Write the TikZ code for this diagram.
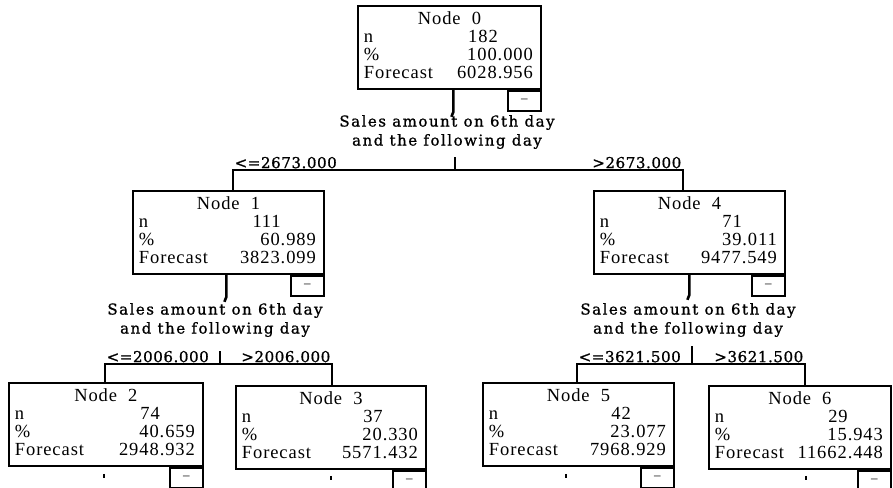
\documentclass[tikz,border=0pt]{standalone}
\usepackage{fontspec}
\setmainfont{Liberation Serif}
\newfontfamily\splitfont[LetterSpace=10,FakeBold=1]{DejaVu Serif}
\newfontfamily\cutfont[LetterSpace=4,FakeBold=1]{DejaVu Serif}

\newcommand{\nodetable}[5]{%
  \begin{tabular*}{#1}{@{\hspace{6pt}}l@{\extracolsep{\fill}}r@{\hspace{8pt}}}
    \multicolumn{2}{c}{#2}\\
    n & #3\phantom{.000}\\
    \% & #4\\
    Forecast & #5
  \end{tabular*}}

\begin{document}
\begin{tikzpicture}[x=1pt,y=-1pt,
    treebox/.style={draw,line width=1.8pt,inner sep=0pt,minimum height=83pt,anchor=north west,
      font=\fontsize{18.5}{18}\selectfont\addfontfeatures{LetterSpace=5}},
    minusbox/.style={draw,line width=1.8pt,inner sep=0pt,minimum width=33pt,minimum height=20pt,
      anchor=north east,font=\fontsize{13}{13}\selectfont},
    splitlabel/.style={align=center,inner sep=0pt,font=\splitfont\fontsize{15}{19}\selectfont},
    cutlabel/.style={inner sep=1.5pt,font=\cutfont\fontsize{15}{16}\selectfont},
    conn/.style={line width=2.6pt,line join=miter},
    tick/.style={line width=2pt}]
  \useasboundingbox (0,0) rectangle (893,487);

  % tree nodes
  \node[treebox] (n0) at (357,5) {\nodetable{183pt}{Node\ \ 0}{182}{100.000}{6028.956}};
  \node[treebox] (n1) at (132,190) {\nodetable{191pt}{Node\ \ 1}{111}{60.989}{3823.099}};
  \node[treebox] (n4) at (593,190) {\nodetable{191pt}{Node\ \ 4}{71}{39.011}{9477.549}};
  \node[treebox] (n2) at (8,382) {\nodetable{194pt}{Node\ \ 2}{74}{40.659}{2948.932}};
  \node[treebox] (n3) at (235,385) {\nodetable{190pt}{Node\ \ 3}{37}{20.330}{5571.432}};
  \node[treebox] (n5) at (482,382) {\nodetable{191pt}{Node\ \ 5}{42}{23.077}{7968.929}};
  \node[treebox] (n6) at (708,385) {\nodetable{182pt}{Node\ \ 6}{29}{15.943}{11662.448}};

  \foreach \n in {0,...,6}
    \node[minusbox] (m\n) at (n\n.south east) {--};

  % split labels
  \node[splitlabel] (s0) at (447,132) {Sales amount on 6th day\\and the following day};
  \node[splitlabel] (s1) at (215,320) {Sales amount on 6th day\\and the following day};
  \node[splitlabel] (s4) at (688,320) {Sales amount on 6th day\\and the following day};

  \coordinate (b0) at (455,170);
  \coordinate (c1) at (233,170);
  \coordinate (c4) at (683,170);
  \coordinate (b1) at (220,364);
  \coordinate (c2) at (105,364);
  \coordinate (c3) at (332,364);
  \coordinate (b4) at (692,364);
  \coordinate (c5) at (577,364);
  \coordinate (c6) at (805,364);

  % stubs below parents
  \draw[conn] ([xshift=4pt]n0.south) -- ++(0,22) -- ++(-2,5);
  \draw[conn] ([xshift=-2pt]n1.south) -- ++(0,22) -- ++(-2,5);
  \draw[conn] (n4.south) -- ++(0,20) -- ++(-2,5);

  % split bars
  \draw[conn] (s0.south -| b0) ++(0,8) -- (b0);
  \draw[conn] (c1 |- n1.north) -- (c1) -- (c4) -- (c4 |- n4.north);
  \draw[conn] (s1.south -| b1) ++(0,14) -- (b1);
  \draw[conn] (c2 |- n2.north) -- (c2) -- (c3) -- (c3 |- n3.north);
  \draw[conn] (s4.south -| b4) ++(0,9) -- (b4);
  \draw[conn] (c5 |- n5.north) -- (c5) -- (c6) -- (c6 |- n6.north);

  % cut points
  \node[cutlabel,anchor=south west] (l1) at (c1) {<=2673.000};
  \node[cutlabel,anchor=south east] (l4) at (c4) {>2673.000};
  \node[cutlabel,anchor=south west] (l2) at (c2) {<=2006.000};
  \node[cutlabel,anchor=south east] (l3) at (c3) {>2006.000};
  \node[cutlabel,anchor=south west] (l5) at (c5) {<=3621.500};
  \node[cutlabel,anchor=south east] (l6) at (c6) {>3621.500};

  % marks below leaves
  \draw[tick] ([xshift=-2pt]n2.south) ++(0,7) -- ++(0,4);
  \draw[tick] (n3.south) ++(0,6) -- ++(0,4);
  \draw[tick] ([xshift=-12pt]n5.south) ++(0,7) -- ++(0,4);
  \draw[tick] ([xshift=6pt]n6.south) ++(0,6) -- ++(0,4);
\end{tikzpicture}
\end{document}
